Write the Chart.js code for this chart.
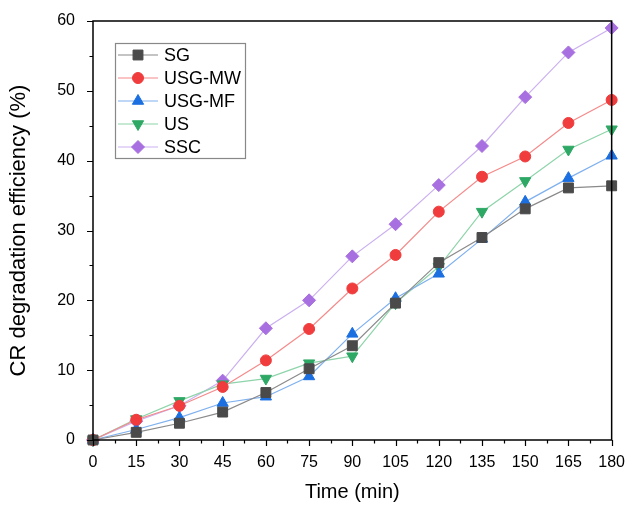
<!DOCTYPE html>
<html><head><meta charset="utf-8">
<script src="https://cdn.jsdelivr.net/npm/chart.js@4.4.1/dist/chart.umd.min.js"></script>
<style>html,body{margin:0;padding:0;background:#fff;}#wrap{width:630px;height:505px;}</style>
</head><body><div id="wrap"><canvas id="c" width="630" height="505"></canvas></div>
<script>
const times = [0,15,30,45,60,75,90,105,120,135,150,165,180];
const SG     = [0,1.1,2.4,4.0,6.8,10.2,13.5,19.6,25.4,29.0,33.1,36.1,36.4];
const USG_MW = [0,2.9,4.9,7.6,11.4,15.9,21.7,26.5,32.7,37.7,40.6,45.4,48.7];
const USG_MF = [0,1.5,3.2,5.3,6.2,9.1,15.2,20.3,23.8,28.8,34.1,37.5,40.7];
const US     = [0,3.0,5.6,8.0,8.8,11.0,12.0,19.6,24.8,32.7,37.1,41.6,44.5];
const SSC    = [0,2.7,4.9,8.5,16.0,20.0,26.3,30.9,36.5,42.1,49.1,55.5,59.0];
const xTicks = [0,15,30,45,60,75,90,105,120,135,150,165,180];
const yTicks = [0,10,20,30,40,50,60];

const FONT = '"Liberation Sans", Arial, sans-serif';
function ds(label, arr, marker, line, style, r){
  return {label, data: times.map((t,i)=>({x:t,y:arr[i]})), borderColor: line, backgroundColor: marker,
    pointBackgroundColor: marker, pointBorderColor: marker, pointBorderWidth: 1, pointStyle: style,
    pointRadius: r, borderWidth: 1.2, tension: 0, clip: false};
}
const datasets = [
  ds('SG', SG, '#4a4a4a', '#8a8a8a', 'rect', 7),
  ds('USG-MW', USG_MW, '#f03c3c', '#f58a8a', 'circle', 5.5),
  ds('USG-MF', USG_MF, '#1b6fe0', '#7fb0ef', 'triangle', 6.5),
  ds('US', US, '#2ea865', '#8ed4aa', 'triangle', 6.5),
  ds('SSC', SSC, '#a86fe0', '#cbb0f0', 'rectRot', 6.5),
];
datasets[3].pointRotation = 180;

const framePlugin = {
  id:'frame',
  afterDatasetsDraw(chart){
    const {ctx, chartArea:a, scales:{x,y}} = chart;
    ctx.save();
    ctx.strokeStyle = '#000'; ctx.lineWidth = 1.5;
    ctx.strokeRect(a.left, a.top, a.right-a.left, a.bottom-a.top);
    ctx.lineWidth = 1.2;
    ctx.beginPath();
    for (let v=0; v<=180; v+=7.5){
      const px = Math.round(x.getPixelForValue(v))+0.5;
      const len = (v%15===0)?6:3.5;
      ctx.moveTo(px, a.bottom); ctx.lineTo(px, a.bottom+len);
    }
    for (let v=0; v<=60; v+=5){
      const py = Math.round(y.getPixelForValue(v))+0.5;
      const len = (v%10===0)?6:3.5;
      ctx.moveTo(a.left, py); ctx.lineTo(a.left-len, py);
    }
    ctx.stroke();
    // legend
    const lx=115, ly=43, lw=130, lh=115;
    ctx.fillStyle='#fff'; ctx.fillRect(lx,ly,lw,lh);
    ctx.strokeStyle='#888'; ctx.lineWidth=1.2; ctx.strokeRect(lx+0.5,ly+0.5,lw,lh);
    chart.data.datasets.forEach((d,i)=>{
      const cy = 55 + i*23;
      ctx.strokeStyle=d.borderColor; ctx.lineWidth=1.2;
      ctx.beginPath(); ctx.moveTo(118,cy); ctx.lineTo(158,cy); ctx.stroke();
      ctx.fillStyle=d.pointBackgroundColor; ctx.strokeStyle=d.pointBorderColor; ctx.lineWidth=1;
      Chart.helpers.drawPoint(ctx,{pointStyle:d.pointStyle, radius:d.pointRadius, rotation:d.pointRotation||0, borderWidth:1}, 138, cy);
      ctx.fillStyle='#000'; ctx.font='18px '+FONT; ctx.textBaseline='middle'; ctx.textAlign='left';
      ctx.fillText(d.label, 164, cy+1);
    });
    ctx.restore();
  }
};

new Chart(document.getElementById('c'), {
  type:'line',
  data:{datasets},
  options:{
    responsive:false, animation:false, devicePixelRatio:1,
    layout:{padding:{top:21,right:17,left:0,bottom:0}},
    plugins:{legend:{display:false}, tooltip:{enabled:false}},
    scales:{
      x:{type:'linear', min:0, max:180,
        afterBuildTicks(s){ s.ticks = xTicks.map(v=>({value:v})); },
        afterFit(s){ s.height = 65; },
        grid:{display:false}, border:{display:false},
        ticks:{color:'#000', font:{family:FONT,size:16}, padding:5, maxRotation:0, autoSkip:false},
        title:{display:true, text:'Time (min)', color:'#000', font:{family:FONT,size:20}, padding:{top:0,bottom:1}}
      },
      y:{type:'linear', min:0, max:60,
        afterBuildTicks(s){ s.ticks = yTicks.map(v=>({value:v})); },
        afterFit(s){ s.width = 93; },
        grid:{display:false}, border:{display:false},
        ticks:{color:'#000', font:{family:FONT,size:16}, padding:10},
        title:{display:true, text:'CR degradation efficiency (%)', color:'#000', font:{family:FONT,size:22}, padding:{top:6,bottom:0}}
      }
    }
  },
  plugins:[framePlugin]
});
</script></body></html>
